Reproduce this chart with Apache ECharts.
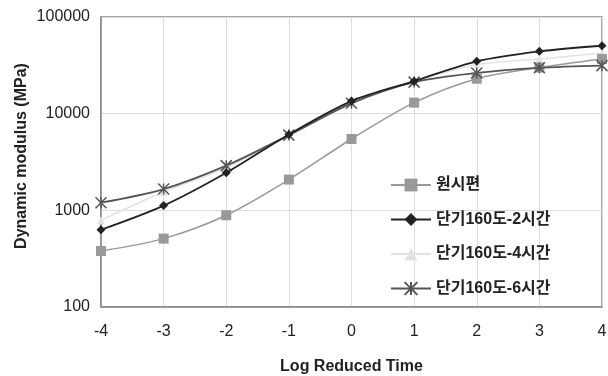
<!DOCTYPE html>
<html><head><meta charset="utf-8">
<script src="https://cdn.jsdelivr.net/npm/echarts@6/dist/echarts.min.js"></script>
<style>html,body{margin:0;padding:0;background:#fff}#c{width:608px;height:376px}</style>
</head><body><div id="c"></div>
<script>
var xValues = [-4, -3, -2, -1, 0, 1, 2, 3, 4];
var seriesNames = ['원시편', '단기160도-2시간', '단기160도-4시간', '단기160도-6시간'];
var raw = [380, 510, 890, 2080, 5470, 13000, 23000, 30000, 36800];
var h2 = [630, 1120, 2450, 6100, 13500, 21700, 34800, 44100, 50400];
var h4 = [790, 1550, 2750, 6000, 13200, 21500, 32200, 36800, 42400];
var h6 = [1200, 1660, 2900, 6000, 12800, 21200, 26400, 29800, 31400];

function pairs(arr){ return xValues.map(function(x,i){ return [x, arr[i]]; }); }
var font = 'Liberation Sans, Arial, Noto Sans CJK KR, sans-serif';
var chart = echarts.init(document.getElementById('c'));
var star = 'path://M0,0L10,10M10,0L0,10M5,0L5,10';
chart.setOption({
  animation:false,
  textStyle:{fontFamily:font},
  grid:{left:101, right:6, top:17, bottom:69, show:true, borderColor:'#888', borderWidth:1.5,
        containLabel:false, outerBoundsMode:'none'},
  legend:{
    orient:'vertical', left:385, top:172, itemGap:18.5, itemWidth:40, itemHeight:16,
    textStyle:{fontFamily:font, fontSize:16, fontWeight:'bold', color:'#222'},
    data:seriesNames
  },
  xAxis:{
    type:'value', min:-4, max:4, interval:1,
    name:'Log Reduced Time', nameLocation:'middle', nameGap:52, nameMoveOverlap:false,
    nameTextStyle:{fontSize:16, fontWeight:'bold', color:'#222'},
    axisLine:{show:true, onZero:false, lineStyle:{color:'#888', width:1.5}},
    axisTick:{show:false},
    axisLabel:{fontSize:16, color:'#222', margin:17},
    splitLine:{show:true, lineStyle:{color:'#ddd'}}
  },
  yAxis:{
    type:'log', logBase:10, min:100, max:100000,
    name:'Dynamic modulus (MPa)', nameLocation:'middle', nameGap:71, nameMoveOverlap:false,
    nameTextStyle:{fontSize:16, fontWeight:'bold', color:'#222', padding:[0,0,0,12]},
    axisLine:{show:true, onZero:false, lineStyle:{color:'#888', width:1.5}},
    axisTick:{show:false},
    axisLabel:{fontSize:16, color:'#222', margin:11, formatter:function(v){return String(Math.round(v));}},
    splitLine:{show:true, lineStyle:{color:'#ddd'}},
    minorTick:{show:false}
  },
  series:[
    {name:seriesNames[0], type:'line', smooth:0.3, data:pairs(raw), symbol:'rect', symbolSize:10,
     lineStyle:{color:'#999', width:1.5}, itemStyle:{color:'#999'}, z:2},
    {name:seriesNames[1], type:'line', smooth:0.3, data:pairs(h2), symbol:'diamond', symbolSize:9,
     lineStyle:{color:'#222', width:1.8}, itemStyle:{color:'#222'}, z:4},
    {name:seriesNames[2], type:'line', smooth:0.3, data:pairs(h4), symbol:'triangle', symbolSize:8,
     lineStyle:{color:'#e3e3e3', width:1.5}, itemStyle:{color:'#e3e3e3'}, z:1},
    {name:seriesNames[3], type:'line', smooth:0.3, data:pairs(h6), symbol:star, symbolSize:11,
     lineStyle:{color:'#555', width:1.8}, itemStyle:{color:'#555', borderColor:'#555', borderWidth:1.5}, z:3}
  ]
});
</script></body></html>
